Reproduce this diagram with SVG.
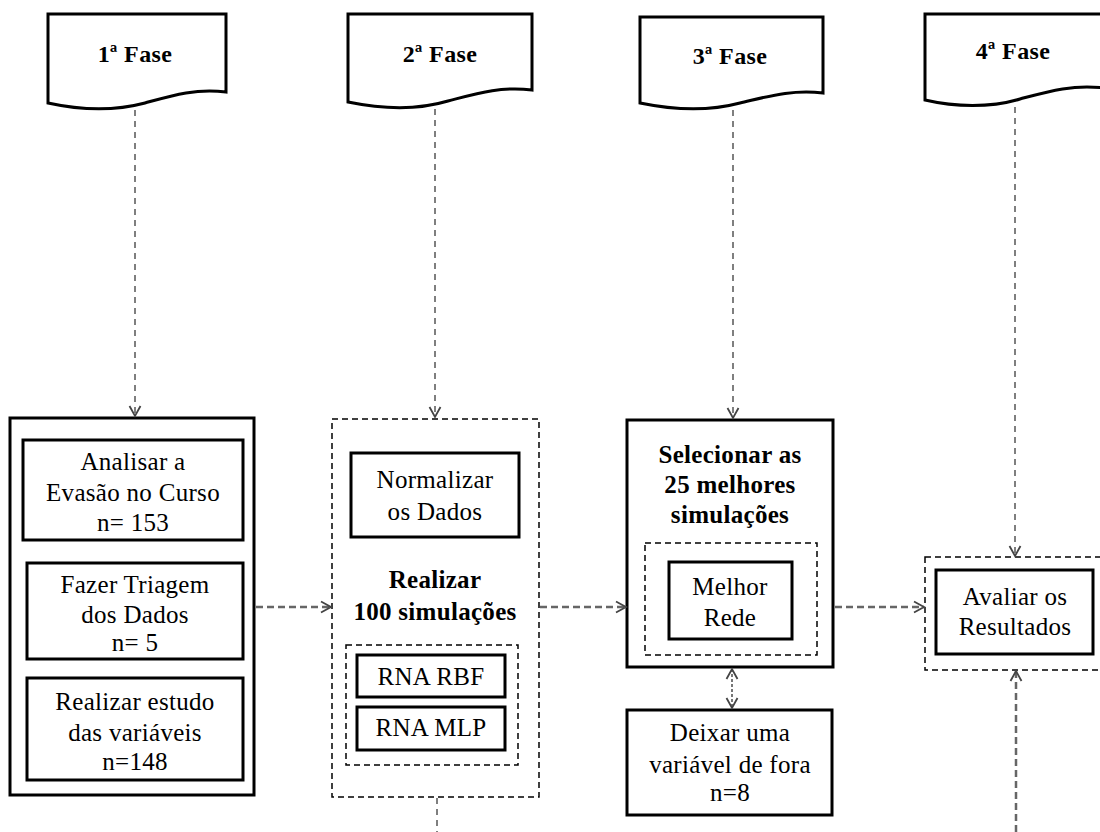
<svg xmlns="http://www.w3.org/2000/svg" width="1100" height="832" viewBox="0 0 1100 832">
  <style>
    .bg { fill: #ffffff; }
    .doc { fill: #ffffff; stroke: #000; stroke-width: 3; stroke-linejoin: miter; }
    .solid { fill: #ffffff; stroke: #000; stroke-width: 3; }
    .dash { fill: none; stroke: #000; stroke-width: 1.5; stroke-dasharray: 6 4; }
    .t { font-family: 'Liberation Serif', Tinos, 'Times New Roman', 'DejaVu Serif', serif; font-size: 25px; letter-spacing: 0.3px; fill: #000; text-anchor: middle; }
    .b { font-weight: bold; }
    .h { font-family: 'Liberation Serif', Tinos, 'Times New Roman', 'DejaVu Serif', serif; font-size: 24px; letter-spacing: 0.4px; font-weight: bold; fill: #000; text-anchor: middle; }
    .vline { fill: none; stroke: #555; stroke-width: 1.5; stroke-dasharray: 6 5; }
    .hline { fill: none; stroke: #666; stroke-width: 2.5; stroke-dasharray: 7 4; }
    .dline { fill: none; stroke: #777; stroke-width: 2; stroke-dasharray: 3 2; }
  </style>
  <defs>
    <marker id="arrow" markerUnits="userSpaceOnUse" markerWidth="14" markerHeight="14" refX="11" refY="6" orient="auto-start-reverse" viewBox="0 0 14 12">
      <path d="M1,0.5 L11,6 L1,11.5" fill="none" stroke="#444" stroke-width="1.8"/>
    </marker>
  </defs>
  <rect class="bg" x="0" y="0" width="1100" height="832"/>

  <!-- phase headers (document shapes) -->
  <g id="fase1">
    <path class="doc" d="M48,14 H226 V92 C195,88 170,96 145,103 C115,111 80,110 48,103 Z"/>
    <text class="h" x="135" y="62">1ª Fase</text>
  </g>
  <g id="fase2">
    <path class="doc" d="M348,14 H532 V90 C500,86 475,94 448,101 C418,110 382,109 348,102 Z"/>
    <text class="h" x="440" y="62">2ª Fase</text>
  </g>
  <g id="fase3">
    <path class="doc" d="M640,17 H823 V93 C792,89 766,97 740,103 C710,111 674,110 640,103 Z"/>
    <text class="h" x="730" y="64">3ª Fase</text>
  </g>
  <g id="fase4">
    <path class="doc" d="M925,14 H1104 V88 C1072,84 1046,92 1020,99 C990,108 955,107 925,100 Z"/>
    <text class="h" x="1013" y="59">4ª Fase</text>
  </g>

  <!-- phase 1 -->
  <g id="etapa1">
    <rect class="solid" x="10" y="418" width="244" height="377"/>
    <g id="analisar">
      <rect class="solid" x="23" y="440" width="220" height="100"/>
      <text class="t" x="133" y="470">Analisar  a</text>
      <text class="t" x="133" y="501">Evasão no Curso</text>
      <text class="t" x="133" y="531">n= 153</text>
    </g>
    <g id="triagem">
      <rect class="solid" x="27" y="563" width="216" height="96"/>
      <text class="t" x="135" y="593">Fazer Triagem</text>
      <text class="t" x="135" y="623">dos Dados</text>
      <text class="t" x="135" y="651">n= 5</text>
    </g>
    <g id="estudo">
      <rect class="solid" x="27" y="678" width="216" height="102"/>
      <text class="t" x="135" y="710">Realizar  estudo</text>
      <text class="t" x="135" y="741">das variáveis</text>
      <text class="t" x="135" y="770">n=148</text>
    </g>
  </g>

  <!-- phase 2 -->
  <g id="etapa2">
    <rect class="dash" x="332" y="419" width="207" height="378"/>
    <g id="normalizar">
      <rect class="solid" x="351" y="453" width="168" height="84"/>
      <text class="t" x="435" y="488">Normalizar</text>
      <text class="t" x="435" y="520">os Dados</text>
    </g>
    <text class="t b" x="435" y="588">Realizar</text>
    <text class="t b" x="435" y="620">100 simulações</text>
    <g id="redes">
      <rect class="dash" x="346" y="645" width="172" height="120"/>
      <g id="rbf">
        <rect class="solid" x="357" y="655" width="148" height="42"/>
        <text class="t" x="431" y="685">RNA RBF</text>
      </g>
      <g id="mlp">
        <rect class="solid" x="357" y="707" width="148" height="43"/>
        <text class="t" x="431" y="736">RNA MLP</text>
      </g>
    </g>
  </g>

  <!-- phase 3 -->
  <g id="etapa3">
    <rect class="solid" x="627" y="420" width="206" height="247"/>
    <text class="t b" x="730" y="463">Selecionar as</text>
    <text class="t b" x="730" y="493">25 melhores</text>
    <text class="t b" x="730" y="523">simulações</text>
    <rect class="dash" x="645" y="543" width="172" height="112"/>
    <g id="melhor">
      <rect class="solid" x="669" y="562" width="123" height="77"/>
      <text class="t" x="730" y="595">Melhor</text>
      <text class="t" x="730" y="626">Rede</text>
    </g>
  </g>
  <g id="deixar">
    <rect class="solid" x="627" y="710" width="205" height="105"/>
    <text class="t" x="730" y="741">Deixar  uma</text>
    <text class="t" x="730" y="773">variável de fora</text>
    <text class="t" x="730" y="801">n=8</text>
  </g>

  <!-- phase 4 -->
  <g id="etapa4">
    <rect class="dash" x="925" y="557" width="180" height="113"/>
    <g id="avaliar">
      <rect class="solid" x="936" y="570" width="157" height="84"/>
      <text class="t" x="1015" y="605">Avaliar os</text>
      <text class="t" x="1015" y="635">Resultados</text>
    </g>
  </g>

  <!-- connectors -->
  <g id="connectors">
    <line class="vline" x1="135" y1="110" x2="135" y2="416" marker-end="url(#arrow)"/>
    <line class="vline" x1="435" y1="109" x2="435" y2="417" marker-end="url(#arrow)"/>
    <line class="vline" x1="733" y1="110" x2="733" y2="418" marker-end="url(#arrow)"/>
    <line class="vline" x1="1015" y1="107" x2="1015" y2="556" marker-end="url(#arrow)"/>
    <line class="hline" x1="256" y1="607" x2="331" y2="607" marker-end="url(#arrow)"/>
    <line class="hline" x1="540" y1="607" x2="626" y2="607" marker-end="url(#arrow)"/>
    <line class="hline" x1="835" y1="607" x2="924" y2="607" marker-end="url(#arrow)"/>
    <line class="dline" x1="732" y1="669" x2="732" y2="708" marker-start="url(#arrow)" marker-end="url(#arrow)"/>
    <line class="vline" x1="437" y1="798" x2="437" y2="832"/>
    <line class="hline" x1="1016" y1="832" x2="1016" y2="671" marker-end="url(#arrow)"/>
  </g>
</svg>
